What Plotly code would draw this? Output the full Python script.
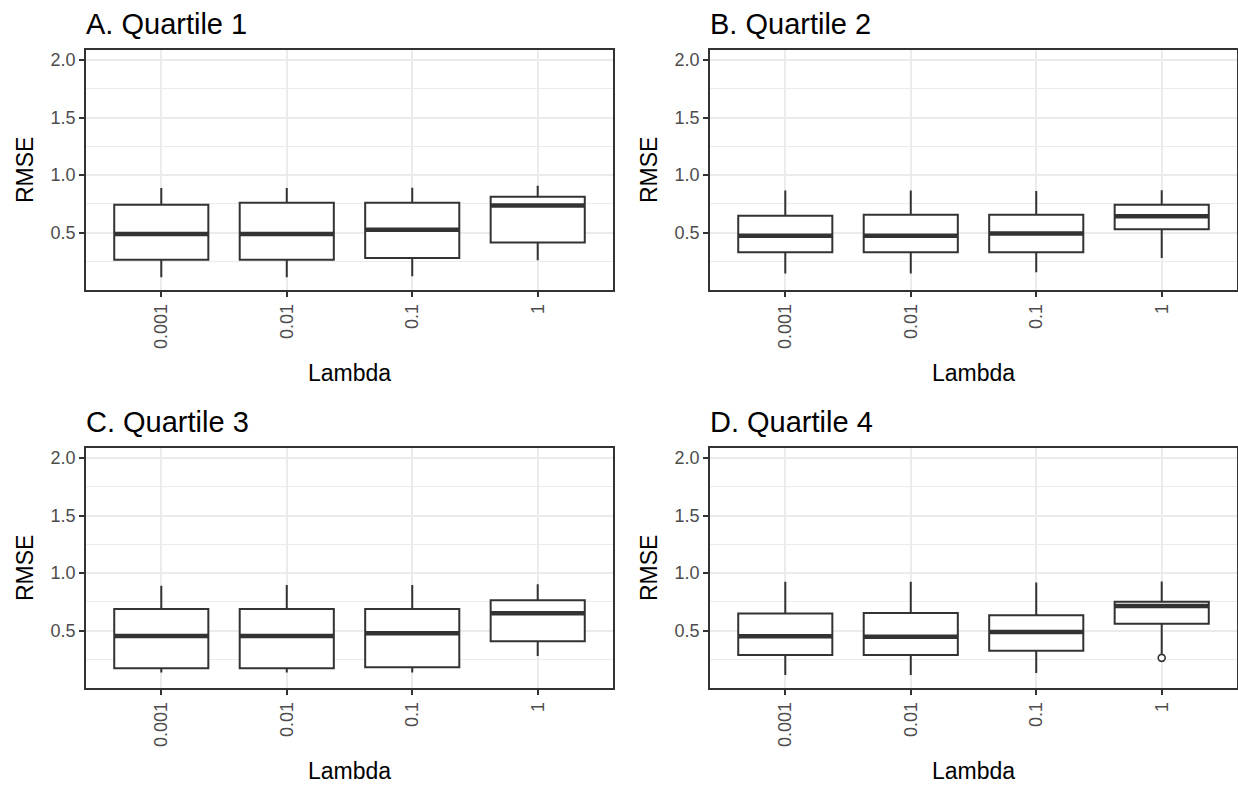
import plotly.graph_objects as go

# Lambda values on the x axis
lambdas = ["0.001", "0.01", "0.1", "1"]
panel_titles = ["A. Quartile 1", "B. Quartile 2", "C. Quartile 3", "D. Quartile 4"]

# Box summaries per quartile (lower whisker, Q1, median, Q3, upper whisker)
q1_lo = [0.111, 0.111, 0.120, 0.259]
q1_q1 = [0.262, 0.262, 0.279, 0.413]
q1_med = [0.488, 0.488, 0.523, 0.735]
q1_q3 = [0.741, 0.758, 0.758, 0.810]
q1_hi = [0.886, 0.886, 0.890, 0.906]

q2_lo = [0.143, 0.143, 0.155, 0.279]
q2_q1 = [0.329, 0.329, 0.329, 0.529]
q2_med = [0.471, 0.471, 0.491, 0.642]
q2_q3 = [0.645, 0.654, 0.654, 0.741]
q2_hi = [0.865, 0.865, 0.860, 0.868]

q3_lo = [0.134, 0.134, 0.134, 0.279]
q3_q1 = [0.172, 0.172, 0.181, 0.407]
q3_med = [0.453, 0.453, 0.477, 0.651]
q3_q3 = [0.686, 0.686, 0.686, 0.764]
q3_hi = [0.889, 0.895, 0.895, 0.903]

q4_lo = [0.114, 0.114, 0.130, 0.297]
q4_q1 = [0.288, 0.288, 0.323, 0.558]
q4_med = [0.451, 0.445, 0.486, 0.712]
q4_q3 = [0.647, 0.653, 0.633, 0.749]
q4_hi = [0.923, 0.923, 0.917, 0.926]

# Outliers: (lambda label, RMSE)
q4_outliers = [("1", 0.262)]

panels = [
    (q1_lo, q1_q1, q1_med, q1_q3, q1_hi, []),
    (q2_lo, q2_q1, q2_med, q2_q3, q2_hi, []),
    (q3_lo, q3_q1, q3_med, q3_q3, q3_hi, []),
    (q4_lo, q4_q1, q4_med, q4_q3, q4_hi, q4_outliers),
]

W, H = 1238, 790
FONT = "Liberation Sans, Arial, sans-serif"
DARK = "#333333"
GRID = "#EBEBEB"
BOX_W = 0.75

# Panel placement in pixels: (left, right, top, bottom)
boxes_px = [
    (86, 613, 50, 290),
    (710, 1237, 50, 290),
    (86, 613, 448, 688),
    (710, 1237, 448, 688),
]

xpos = list(range(1, len(lambdas) + 1))
fig = go.Figure()
layout = dict(
    width=W, height=H,
    margin=dict(l=0, r=0, t=0, b=0),
    paper_bgcolor="white", plot_bgcolor="white",
    showlegend=False,
    font=dict(family=FONT),
    annotations=[],
)

for i, ((lo, q1, med, q3, hi, outs), (l, r, t, b), title) in enumerate(
        zip(panels, boxes_px, panel_titles)):
    n = "" if i == 0 else str(i + 1)
    xa, ya = "x" + n, "y" + n

    fig.add_trace(go.Box(
        x=xpos, q1=q1, median=med, q3=q3, lowerfence=lo, upperfence=hi,
        boxpoints=False, width=BOX_W, whiskerwidth=0,
        fillcolor="white", line=dict(color=DARK, width=2),
        xaxis=xa, yaxis=ya, hoverinfo="skip",
    ))

    # Heavier median bar
    mx, my = [], []
    for p, m in zip(xpos, med):
        mx += [p - BOX_W / 2, p + BOX_W / 2, None]
        my += [m, m, None]
    fig.add_trace(go.Scatter(
        x=mx, y=my, mode="lines", line=dict(color=DARK, width=4.5),
        xaxis=xa, yaxis=ya, hoverinfo="skip",
    ))

    if outs:
        fig.add_trace(go.Scatter(
            x=[lambdas.index(lab) + 1 for lab, _ in outs],
            y=[v for _, v in outs],
            mode="markers",
            marker=dict(symbol="circle", size=7, color="white",
                        line=dict(color=DARK, width=1.6)),
            xaxis=xa, yaxis=ya, hoverinfo="skip",
        ))

    xdom = [l / W, r / W]
    ydom = [1 - b / H, 1 - t / H]
    layout["xaxis" + n] = dict(
        domain=xdom, anchor=ya, range=[0.4, len(lambdas) + 0.6],
        tickvals=xpos, ticktext=lambdas, tickangle=-90,
        tickfont=dict(size=18, color="#4D4D4D", family=FONT),
        ticks="outside", ticklen=5, tickwidth=1.5, tickcolor=DARK,
        showgrid=True, gridcolor=GRID, gridwidth=1.8,
        showline=True, mirror=True, linecolor=DARK, linewidth=1.5,
        zeroline=False, fixedrange=True,
    )
    layout["yaxis" + n] = dict(
        domain=ydom, anchor=xa, range=[0.0, 2.087],
        tickvals=[0.5, 1.0, 1.5, 2.0], ticktext=["0.5", "1.0", "1.5", "2.0"],
        tickfont=dict(size=18, color="#4D4D4D", family=FONT),
        ticks="outside", ticklen=5, tickwidth=1.5, tickcolor=DARK,
        showgrid=True, gridcolor=GRID, gridwidth=1.8,
        minor=dict(tickvals=[0.25, 0.75, 1.25, 1.75], showgrid=True,
                   gridcolor=GRID, gridwidth=0.9, ticks=""),
        showline=True, mirror=True, linecolor=DARK, linewidth=1.5,
        zeroline=False, fixedrange=True,
    )

    cx = (l + r) / 2 / W
    cy = 1 - (t + b) / 2 / H
    layout["annotations"] += [
        dict(text=title, xref="paper", yref="paper", x=(l - 2) / W, y=1 - (t - 26) / H,
             xanchor="left", yanchor="middle", showarrow=False,
             font=dict(size=29, color="black", family=FONT)),
        dict(text="RMSE", xref="paper", yref="paper", x=(l - 61) / W, y=cy,
             xanchor="center", yanchor="middle", textangle=-90, showarrow=False,
             font=dict(size=23, color="black", family=FONT)),
        dict(text="Lambda", xref="paper", yref="paper", x=cx, y=1 - (b + 83) / H,
             xanchor="center", yanchor="middle", showarrow=False,
             font=dict(size=23, color="black", family=FONT)),
    ]

fig.update_layout(**layout)
fig.write_html("out.html")
